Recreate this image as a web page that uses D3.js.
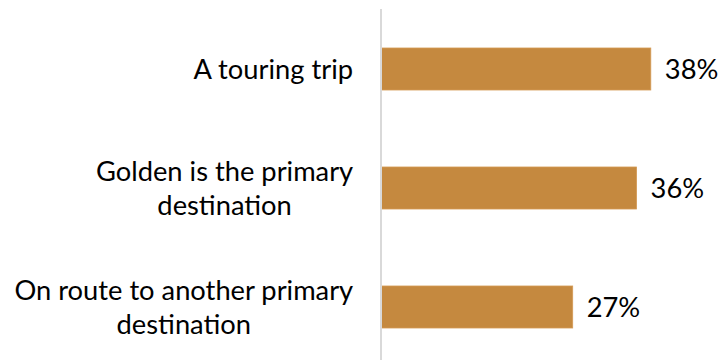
<!DOCTYPE html>
<html>
<head>
<meta charset="utf-8">
<script src="https://cdn.jsdelivr.net/npm/d3@7"></script>
<style>
  html, body { margin: 0; padding: 0; background: #ffffff; }
  svg { display: block; }
  text { font-family: Lato, "Open Sans", sans-serif; fill: #000000; }
</style>
</head>
<body>
<svg id="chart" width="721" height="362"></svg>
<script>
// Trip purpose shares (percent)
const categories = [
  ["A touring trip"],
  ["Golden is the primary", "destination"],
  ["On route to another primary", "destination"]
];
const values = [38, 36, 27];
const valueLabels = ["38%", "36%", "27%"];

const width = 721, height = 362;
const axisX = 381;
const labelRight = 353;
const fontSize = 27.3;
const lineGap = 34;

const svg = d3.select("#chart");

const keys = categories.map(c => c.join(" "));

const y = d3.scaleBand()
  .domain(keys)
  .range([9.5, 366.5])
  .paddingInner(0.647)
  .paddingOuter(0.3235);

const x = d3.scaleLinear()
  .domain([0, 40])
  .range([axisX, 665]);

// bars
svg.append("g")
  .selectAll("rect")
  .data(values)
  .join("rect")
  .attr("x", x(0))
  .attr("y", (d, i) => y(keys[i]))
  .attr("width", d => x(d) - x(0))
  .attr("height", y.bandwidth())
  .attr("fill", "#c5893f")
  .attr("stroke", "#d49a55")
  .attr("stroke-width", 0.8);

// category axis line
svg.append("line")
  .attr("x1", axisX).attr("x2", axisX)
  .attr("y1", 9).attr("y2", 360)
  .attr("stroke", "#d9d9d9")
  .attr("stroke-width", 2);

// category labels: block right-aligned to the axis, lines centred within the block
const labels = svg.append("g")
  .selectAll("text")
  .data(categories)
  .join("text")
  .attr("text-anchor", "middle")
  .attr("font-size", fontSize)
  .attr("y", (d, i) => y(keys[i]) + y.bandwidth() / 2);

labels.selectAll("tspan")
  .data(d => d.map((t, j) => ({ t, j, n: d.length })))
  .join("tspan")
  .attr("dy", d => d.j === 0 ? (-(d.n - 1) * lineGap / 2 + fontSize * 0.36) : lineGap)
  .text(d => d.t);

labels.each(function() {
  const spans = d3.select(this).selectAll("tspan");
  let maxW = 0;
  spans.each(function() { maxW = Math.max(maxW, this.getComputedTextLength()); });
  spans.attr("x", labelRight - maxW / 2);
});

// value labels
svg.append("g")
  .selectAll("text")
  .data(values)
  .join("text")
  .attr("font-size", fontSize)
  .attr("x", d => x(d) + 14)
  .attr("y", (d, i) => y(keys[i]) + y.bandwidth() / 2)
  .attr("dy", "0.36em")
  .text((d, i) => valueLabels[i]);
</script>
</body>
</html>
